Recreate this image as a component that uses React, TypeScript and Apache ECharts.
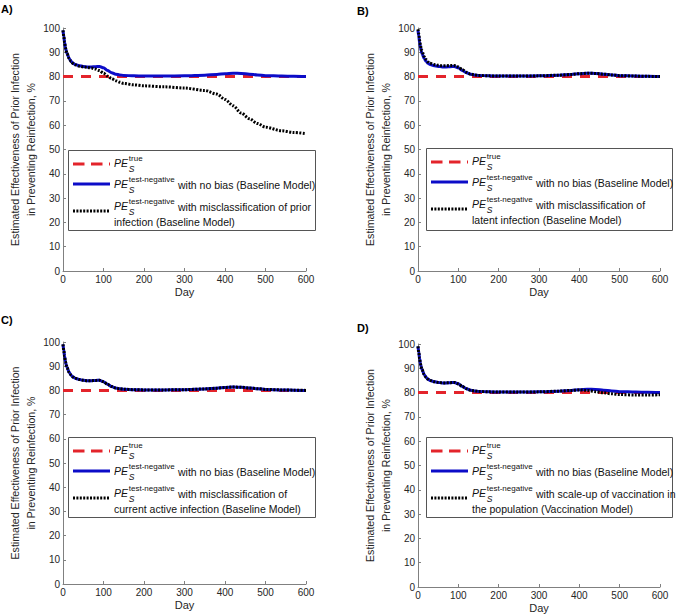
import React, { useEffect, useRef } from "react";
import * as echarts from "echarts";

const FONT = '"Liberation Sans", Arial, Helvetica, sans-serif';

// Data
const days = [0, 2, 4, 6, 8, 10, 15, 20, 25, 30, 40, 50, 60, 70, 80, 90, 100, 110, 120, 130, 140, 150, 175, 200, 250, 300, 350, 380, 400, 420, 440, 460, 480, 500, 540, 570, 600];
const trueDays = [0, 600];
const trueValues = [80, 80];
const baseline = [99, 96.5, 94, 92, 90.5, 89.5, 87.5, 86.3, 85.5, 85, 84.5, 84.2, 84, 84, 84.1, 84.2, 83.6, 82.5, 81.6, 81, 80.7, 80.5, 80.3, 80.2, 80.2, 80.3, 80.6, 80.9, 81.2, 81.4, 81.3, 81, 80.7, 80.4, 80.2, 80.1, 80];
const priorMisclass = [99, 96.5, 94, 92, 90.5, 89.5, 87.5, 86.2, 85.4, 84.9, 84.3, 84, 83.8, 83.5, 83.1, 82.5, 81.4, 80.2, 79.2, 78.3, 77.7, 77.2, 76.6, 76.2, 75.8, 75.3, 74.3, 72.8, 70.6, 68, 65, 62.7, 60.7, 59.2, 57.7, 57, 56.5];
const latentMisclass = [99.5, 97.5, 95, 93, 91.5, 90.5, 88.3, 87, 86, 85.5, 85, 84.7, 84.5, 84.5, 84.6, 84.6, 84, 82.8, 81.8, 81.1, 80.7, 80.5, 80.3, 80.2, 80.2, 80.3, 80.6, 80.9, 81.2, 81.4, 81.3, 81, 80.7, 80.4, 80.2, 80.1, 80];
const activeMisclass = [99, 96.5, 94, 92, 90.5, 89.5, 87.5, 86.3, 85.5, 85, 84.5, 84.2, 84, 84, 84.1, 84.2, 83.6, 82.5, 81.6, 81, 80.7, 80.5, 80.3, 80.2, 80.2, 80.3, 80.6, 80.9, 81.2, 81.4, 81.3, 81, 80.7, 80.4, 80.2, 80.1, 80];
const vaccination = [99, 96.5, 94, 92, 90.5, 89.5, 87.5, 86.3, 85.5, 85, 84.5, 84.2, 84, 84, 84.1, 84.2, 83.6, 82.5, 81.6, 81, 80.7, 80.5, 80.3, 80.2, 80.2, 80.3, 80.6, 80.9, 81.1, 80.9, 80.4, 79.9, 79.5, 79.2, 79, 79, 79.1];

const xTicks = { min: 0, max: 600, interval: 100 };
const yTicks = { min: 0, max: 100, interval: 10 };

const yName = "Estimated Effectiveness of Prior Infection\nin Preventing Reinfection, %";

const RED = "#e3242b";
const BLUE = "#0c0cc8";
const BLACK = "#000000";

const panels = [
  { grid: { left: 63, top: 28, width: 243, height: 243 }, black: priorMisclass, label: "A)", labelPos: [1, 9], legend: { x: 68, y: 150, w: 247, h: 80 }, third: ["with misclassification of prior", "infection (Baseline Model)"] },
  { grid: { left: 418, top: 28, width: 242, height: 243 }, black: latentMisclass, label: "B)", labelPos: [357, 11], legend: { x: 426, y: 148, w: 246, h: 82 }, third: ["with misclassification of", "latent infection (Baseline Model)"] },
  { grid: { left: 63, top: 342, width: 243, height: 242 }, black: activeMisclass, label: "C)", labelPos: [1, 320], legend: { x: 68, y: 437, w: 247, h: 80 }, third: ["with misclassification of", "current active infection (Baseline Model)"] },
  { grid: { left: 418, top: 344, width: 242, height: 243 }, black: vaccination, label: "D)", labelPos: [357, 328], legend: { x: 426, y: 437, w: 246, h: 80 }, third: ["with scale-up of vaccination in", "the population (Vaccination Model)"] },
];

function txt(x: number, y: number, text: string, font: string, fill = "#111") {
  return {
    type: "text",
    x,
    y,
    z: 101,
    style: { text, font, fill, align: "left", verticalAlign: "middle", textAlign: "left", textVerticalAlign: "middle" },
  };
}

function pe(x: number, y: number, sup: string) {
  return [
    txt(x, y, "PE", `italic 10.5px ${FONT}`),
    txt(x + 14.8, y - 5, sup, `8px ${FONT}`),
    txt(x + 14.8, y + 5.5, "S", `italic 8.5px ${FONT}`),
  ];
}

function legendEls(L: { x: number; y: number; w: number; h: number }, third: string[]) {
  const x0 = L.x;
  const y0 = L.y;
  const els: any[] = [];
  els.push({ type: "rect", z: 100, shape: { x: x0 + 0.5, y: y0 + 0.5, width: L.w, height: L.h }, style: { fill: "#fff", stroke: "#555", lineWidth: 1 } });
  const r1 = y0 + 13, r2 = y0 + 34, r3 = y0 + 56, r3b = y0 + 72;
  els.push({ type: "line", z: 101, shape: { x1: x0 + 5, y1: r1 + 1, x2: x0 + 42, y2: r1 + 1 }, style: { stroke: RED, lineWidth: 3, lineDash: [11.5, 6.5] } });
  els.push(...pe(x0 + 46, r1, "true"));
  els.push({ type: "line", z: 101, shape: { x1: x0 + 5, y1: r2, x2: x0 + 42, y2: r2 }, style: { stroke: BLUE, lineWidth: 3 } });
  els.push(...pe(x0 + 46, r2, "test-negative"));
  els.push(txt(x0 + 110, r2 + 1, "with no bias (Baseline Model)", `10.5px ${FONT}`));
  els.push({ type: "line", z: 101, shape: { x1: x0 + 5, y1: y0 + 61, x2: x0 + 42, y2: y0 + 61 }, style: { stroke: BLACK, lineWidth: 3, lineDash: [2, 1.4] } });
  els.push(...pe(x0 + 46, r3, "test-negative"));
  els.push(txt(x0 + 110, r3 + 1, third[0], `10.5px ${FONT}`));
  els.push(txt(x0 + 46, r3b, third[1], `10.5px ${FONT}`));
  return els;
}

function pairs(xs: number[], ys: number[]) {
  return xs.map((x, i) => [x, ys[i]]);
}

export default function App() {
  const ref = useRef<HTMLDivElement>(null);
  useEffect(() => {
    if (!ref.current) return;
    const chart = echarts.init(ref.current, null, { renderer: "svg" });
    const axisLine = { show: true, onZero: false, lineStyle: { color: "#808080", width: 1 } };
    const axisTick = { show: true, inside: true, length: 3, lineStyle: { color: "#808080" } };
    const axisLabel = { color: "#262626", fontSize: 10, fontFamily: FONT, margin: 3 };
    const option: any = {
      animation: false,
      backgroundColor: "#ffffff",
      grid: panels.map((p) => ({ ...p.grid, containLabel: false, outerBoundsMode: "none" })),
      xAxis: panels.map((p, i) => ({
        type: "value",
        gridIndex: i,
        ...xTicks,
        name: "Day",
        nameLocation: "middle",
        nameGap: 11,
        nameTextStyle: { color: "#262626", fontSize: 11, fontFamily: FONT, lineHeight: 14 },
        axisLine,
        axisTick,
        axisLabel,
        splitLine: { show: false },
      })),
      yAxis: panels.map((p, i) => ({
        type: "value",
        gridIndex: i,
        ...yTicks,
        name: yName,
        nameLocation: "middle",
        nameRotate: 90,
        nameGap: 16,
        nameTextStyle: { color: "#262626", fontSize: 10.6, fontFamily: FONT, lineHeight: 16 },
        axisLine,
        axisTick,
        axisLabel,
        splitLine: { show: false },
      })),
      series: panels.flatMap((p, i) => [
        {
          type: "line",
          xAxisIndex: i,
          yAxisIndex: i,
          data: pairs(trueDays, trueValues),
          symbol: "none",
          lineStyle: { color: RED, width: 3, type: [10, 8] },
          z: 2,
        },
        {
          type: "line",
          xAxisIndex: i,
          yAxisIndex: i,
          data: pairs(days, baseline),
          symbol: "none",
          smooth: 0.3,
          smoothMonotone: "x",
          lineStyle: { color: BLUE, width: 3 },
          z: 3,
        },
        {
          type: "line",
          xAxisIndex: i,
          yAxisIndex: i,
          data: pairs(days, p.black),
          symbol: "none",
          smooth: 0.3,
          smoothMonotone: "x",
          lineStyle: { color: BLACK, width: 3, type: [2, 1.4] },
          z: 4,
        },
      ]),
      graphic: panels.flatMap((p) => [
        {
          type: "text",
          x: p.labelPos[0],
          y: p.labelPos[1],
          z: 101,
          style: { text: p.label, font: `bold 11px ${FONT}`, fill: "#000", align: "left", verticalAlign: "middle", textAlign: "left", textVerticalAlign: "middle" },
        },
        ...legendEls(p.legend, p.third),
      ]),
    };
    chart.setOption(option);
    return () => chart.dispose();
  }, []);
  return <div ref={ref} style={{ position: "absolute", left: 0, top: 0, width: 678, height: 615, background: "#fff" }} />;
}
